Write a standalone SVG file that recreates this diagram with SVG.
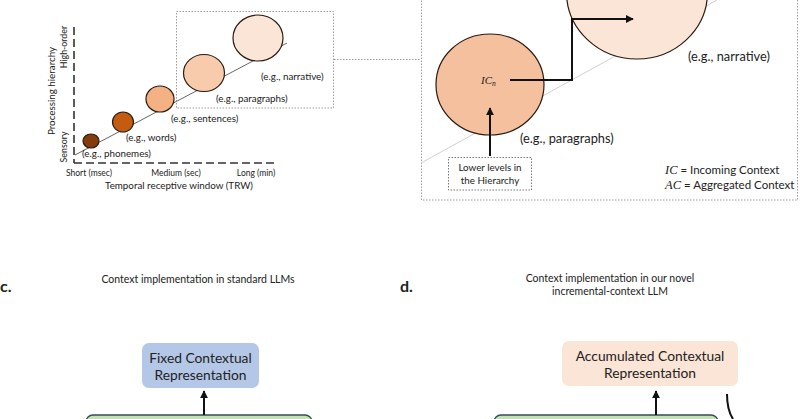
<svg xmlns="http://www.w3.org/2000/svg" width="800" height="419" viewBox="0 0 800 419">
<style>
  .t { font-family: Lato, "Open Sans", "Liberation Sans", sans-serif; fill: #222; }
  .ser { font-family: "Liberation Serif", "DejaVu Serif", serif; font-style: italic; fill: #222; }
  .axis { stroke: #333; stroke-width: 1.6; stroke-dasharray: 8 4; fill: none; }
  .dot { stroke: #9a9a9a; stroke-width: 1; stroke-dasharray: 1.5 1.5; fill: none; }
  .circ { stroke: #2a1a10; stroke-width: 1.2; }
  .conn { stroke: #111; stroke-width: 2; fill: none; }
</style>
<defs>
  <marker id="ah" viewBox="0 0 10 10" refX="9" refY="5" markerWidth="4" markerHeight="4" orient="auto" markerUnits="strokeWidth">
    <path d="M0,0 L10,5 L0,10 z" fill="#111"/>
  </marker>
</defs>
<rect width="800" height="419" fill="#fff"/>

<!-- Panel a -->
<g id="panel-a">
  <line class="axis" x1="74" y1="27" x2="74" y2="163"/>
  <line class="axis" x1="74" y1="163" x2="274" y2="163"/>
  <line x1="75" y1="155" x2="287" y2="43" stroke="#555" stroke-width="0.9"/>
  <text class="t" font-size="9.8" text-anchor="middle" transform="translate(55,91) rotate(-90)">Processing hierarchy</text>
  <text class="t" font-size="8.8" text-anchor="middle" transform="translate(67,47) rotate(-90)">High-order</text>
  <text class="t" font-size="8.8" text-anchor="middle" transform="translate(67,147) rotate(-90)">Sensory</text>
  <text class="t" font-size="8.5" x="89" y="176" text-anchor="middle">Short (msec)</text>
  <text class="t" font-size="8.5" x="176" y="176" text-anchor="middle">Medium (sec)</text>
  <text class="t" font-size="8.5" x="256" y="176" text-anchor="middle">Long (min)</text>
  <text class="t" font-size="9.8" x="179" y="189" text-anchor="middle">Temporal receptive window (TRW)</text>
  <rect class="dot" x="176.5" y="11.5" width="157" height="96.5"/>
  <line class="dot" x1="334" y1="59.5" x2="421" y2="59.5"/>
</g>
<g id="node-phonemes">
  <ellipse class="circ" cx="91" cy="141" rx="8" ry="7" fill="#843c0c"/>
  <text class="t" font-size="9.8" x="82" y="157">(e.g., phonemes)</text>
</g>
<g id="node-words">
  <ellipse class="circ" cx="123" cy="122" rx="10.5" ry="10" fill="#c55a11"/>
  <text class="t" font-size="9.8" x="126" y="141">(e.g., words)</text>
</g>
<g id="node-sentences">
  <ellipse class="circ" cx="160" cy="99" rx="14" ry="13" fill="#f4b183"/>
  <text class="t" font-size="9.8" x="171" y="122">(e.g., sentences)</text>
</g>
<g id="node-paragraphs">
  <ellipse class="circ" cx="204" cy="73" rx="20.5" ry="18.5" fill="#f8cbad"/>
  <text class="t" font-size="9.8" x="216" y="102">(e.g., paragraphs)</text>
</g>
<g id="node-narrative">
  <ellipse class="circ" cx="258" cy="38" rx="25" ry="23" fill="#fbe5d6"/>
  <text class="t" font-size="9.8" x="261" y="80">(e.g., narrative)</text>
</g>

<!-- Panel b -->
<g id="panel-b">
  <rect class="dot" x="421.5" y="-5" width="376" height="205"/>
  <line x1="421" y1="163" x2="717" y2="0" stroke="#d0d0d0" stroke-width="1"/>
</g>
<g id="node-ACn">
  <ellipse class="circ" cx="637" cy="-8" rx="70.5" ry="67" fill="#fbe5d6"/>
  <text class="t" font-size="12.8" x="688" y="61">(e.g., narrative)</text>
</g>
<g id="node-ICn">
  <ellipse class="circ" cx="490" cy="84.5" rx="54" ry="50.5" fill="#f5c09e"/>
  <text class="ser" font-size="11" x="481" y="84">IC<tspan font-size="7.5" dy="2">n</tspan></text>
  <text class="t" font-size="12.8" x="520" y="143">(e.g., paragraphs)</text>
</g>
<g id="node-lower">
  <rect x="448.5" y="157.5" width="83" height="32.5" fill="#fff" stroke="#777" stroke-width="1" stroke-dasharray="1.5 1.5"/>
  <text class="t" font-size="9.8" x="490" y="171" text-anchor="middle">Lower levels in</text>
  <text class="t" font-size="9.8" x="490" y="184" text-anchor="middle">the Hierarchy</text>
</g>
<g id="legend">
  <text font-size="11.5" x="665" y="174"><tspan class="ser" font-size="12.5">IC</tspan><tspan class="t"> = Incoming Context</tspan></text>
  <text font-size="11.5" x="665" y="189"><tspan class="ser" font-size="12.5">AC</tspan><tspan class="t"> = Aggregated Context</tspan></text>
</g>

<!-- Panel c -->
<g id="panel-c">
  <text class="t" font-size="16" font-weight="bold" x="0" y="292">c.</text>
  <text class="t" font-size="10.5" x="198" y="283" text-anchor="middle">Context implementation in standard LLMs</text>
</g>
<g id="node-fixed">
  <rect x="142" y="343" width="117" height="45" rx="7" fill="#b4c7e7"/>
  <text class="t" font-size="13.8" x="200.5" y="363" text-anchor="middle">Fixed Contextual</text>
  <text class="t" font-size="13.8" x="200.5" y="380" text-anchor="middle">Representation</text>
</g>
<g id="node-llm-c">
  <rect x="86" y="415" width="226" height="20" rx="7" fill="#c5e0b4" stroke="#3a4a55" stroke-width="1.3"/>
</g>

<!-- Panel d -->
<g id="panel-d">
  <text class="t" font-size="16" font-weight="bold" x="400" y="292">d.</text>
  <text class="t" font-size="10.5" x="610" y="282" text-anchor="middle">Context implementation in our novel</text>
  <text class="t" font-size="10.5" x="610" y="295" text-anchor="middle">incremental-context LLM</text>
</g>
<g id="node-accum">
  <rect x="562" y="341" width="176" height="45" rx="7" fill="#fbe5d6"/>
  <text class="t" font-size="13.8" x="650" y="361" text-anchor="middle">Accumulated Contextual</text>
  <text class="t" font-size="13.8" x="650" y="378" text-anchor="middle">Representation</text>
</g>
<g id="node-llm-d">
  <rect x="494" y="415" width="224" height="20" rx="7" fill="#c5e0b4" stroke="#3a4a55" stroke-width="1.3"/>
</g>

<!-- Connectors -->
<g id="connectors">
  <polyline class="conn" points="510,80 572,80 572,19 633,19" marker-end="url(#ah)"/>
  <line class="conn" x1="490" y1="156" x2="490" y2="108" marker-end="url(#ah)"/>
  <line class="conn" x1="204" y1="415" x2="204" y2="391" marker-end="url(#ah)"/>
  <line class="conn" x1="656" y1="415" x2="656" y2="391" marker-end="url(#ah)"/>
  <path class="conn" d="M727,394 Q727,410 733,419"/>
</g>
</svg>
